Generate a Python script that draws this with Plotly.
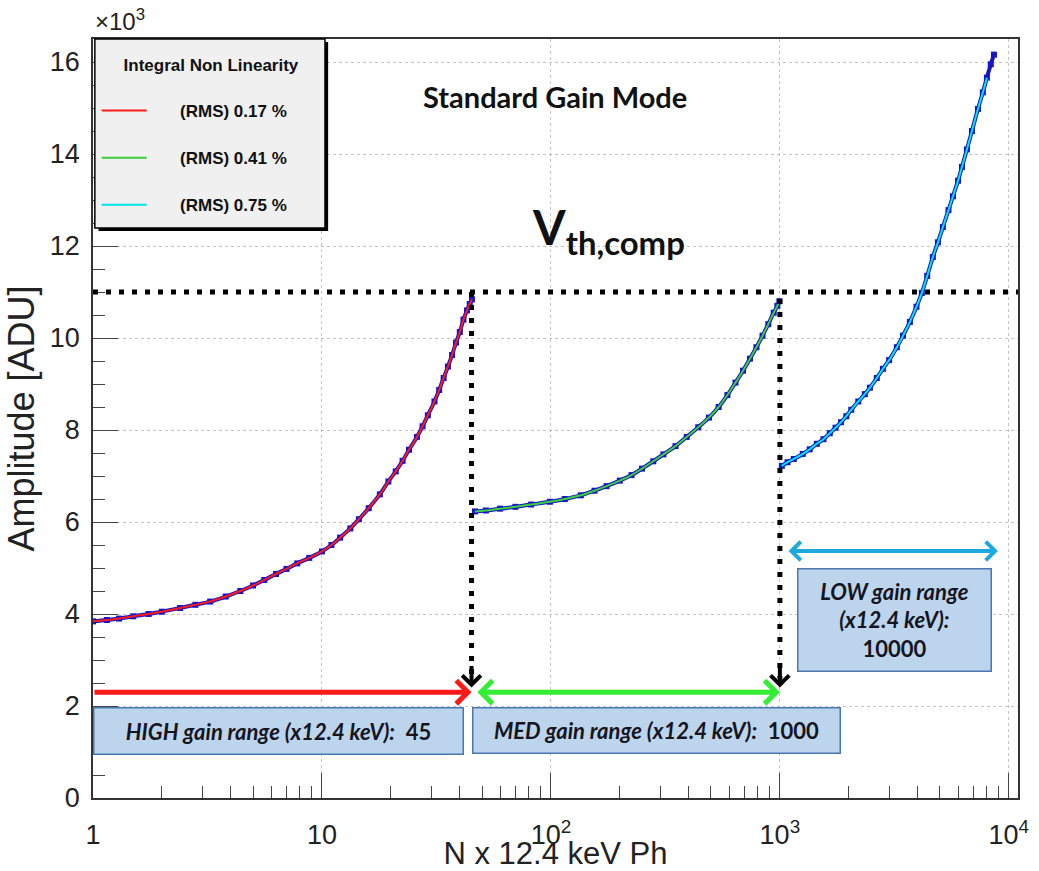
import math
import plotly.graph_objects as go

# ---------------- data ----------------
high_x = [1.0, 1.15, 1.3, 1.5, 1.75, 2.0, 2.4, 2.8, 3.25, 3.8, 4.4, 5.0, 5.6, 6.3, 7.0, 7.8, 8.8,
          10.0, 11.0, 12.0, 13.3, 14.5, 16.0, 17.9, 19.5, 21.0, 22.5, 24.0, 26.0, 27.5, 29.0,
          31.0, 32.5, 34.0, 35.5, 37.0, 38.5, 40.0, 41.5, 43.0, 44.2, 45.2]
high_y = [3.84, 3.87, 3.90, 3.95, 4.00, 4.05, 4.13, 4.20, 4.27, 4.38, 4.50, 4.62, 4.74, 4.87, 4.98,
          5.10, 5.22, 5.36, 5.50, 5.66, 5.86, 6.06, 6.30, 6.60, 6.88, 7.10, 7.33, 7.57, 7.85, 8.08,
          8.32, 8.62, 8.87, 9.13, 9.38, 9.63, 9.90, 10.13, 10.40, 10.60, 10.74, 10.84]

med_x = [46.6, 52, 60, 70, 82, 99, 115, 135, 155, 175, 200, 225, 250, 280, 310, 350, 392, 440,
         490, 540, 590, 640, 690, 740, 790, 840, 890, 940, 975, 995]
med_y = [6.23, 6.25, 6.29, 6.33, 6.38, 6.44, 6.50, 6.58, 6.68, 6.78, 6.90, 7.02, 7.16, 7.32, 7.47,
         7.65, 7.85, 8.06, 8.27, 8.50, 8.76, 9.03, 9.29, 9.55, 9.80, 10.05, 10.30, 10.55, 10.70, 10.80]

low_x = [1020, 1080, 1150, 1259, 1350, 1450, 1550, 1652, 1750, 1850, 1950, 2050, 2200, 2350, 2473,
         2650, 2818, 3000, 3243, 3450, 3697, 3950, 4169, 4400, 4656, 4900, 5150, 5450, 5700, 6000,
         6240, 6560, 6900, 7330, 7700, 8020, 8340, 8610]
low_y = [7.22, 7.30, 7.37, 7.48, 7.58, 7.70, 7.80, 7.93, 8.05, 8.17, 8.30, 8.44, 8.62, 8.78, 8.92,
         9.13, 9.33, 9.52, 9.80, 10.05, 10.35, 10.68, 10.98, 11.35, 11.76, 12.08, 12.41, 12.78, 13.08,
         13.42, 13.72, 14.10, 14.50, 14.98, 15.34, 15.66, 15.95, 16.16]
low_fit_n = 36  # fit drawn over the first points only

legend_names = ["(RMS) 0.17 %", "(RMS) 0.41 %", "(RMS) 0.75 %"]
fit_colors = ["#ff1a1a", "#3ccf3c", "#00e6f0"]
point_color = "#1616c8"

x_tickvals = [1, 10, 100, 1000, 10000]
x_ticktext = ["1", "10", "10<sup>2</sup>", "10<sup>3</sup>", "10<sup>4</sup>"]
y_tickvals = [0, 2, 4, 6, 8, 10, 12, 14, 16]
y_ticktext = ["0", "2", "4", "6", "8", "10", "12", "14", "16"]

v_threshold = 11.0          # Vth,comp level (x10^3 ADU)
high_limit = 45             # HIGH gain range end
med_limit = 1000            # MED gain range end
low_arrow = [1075, 8960]    # LOW gain range arrow extent
range_arrow_y = 2.3
low_arrow_y = 5.37

# ---------------- figure ----------------
fig = go.Figure()

series = [(high_x, high_y, len(high_x)), (med_x, med_y, len(med_x)), (low_x, low_y, low_fit_n)]
for i, (xs, ys, nfit) in enumerate(series):
    fig.add_trace(go.Scatter(
        x=xs, y=ys, mode="lines+markers",
        line=dict(color=point_color, width=4, shape="spline"),
        marker=dict(symbol="square", size=6, color=point_color),
        showlegend=False, hoverinfo="skip"))
for i, (xs, ys, nfit) in enumerate(series):
    fig.add_trace(go.Scatter(
        x=xs[:nfit], y=ys[:nfit], mode="lines",
        line=dict(color=fit_colors[i], width=2, shape="spline"),
        name="\u00a0" * 6 + legend_names[i] + "\u00a0" * 7, legendgroup="g%d" % i))

axis_font = dict(family="Liberation Sans", size=27, color="#222")
fig.update_xaxes(
    type="log", range=[0, 4.04],
    tickvals=x_tickvals, ticktext=x_ticktext, tickfont=axis_font,
    ticks="inside", ticklen=25, tickwidth=1, tickcolor="#444",
    ticklabelstandoff=12,
    minor=dict(ticks="inside", ticklen=12, tickwidth=1, tickcolor="#444", dtick="D1", showgrid=False),
    showline=True, linecolor="#333", linewidth=1.5, mirror=True,
    showgrid=True, gridcolor="#c4c4c4", griddash="dot", gridwidth=1,
    title=dict(text="N x 12.4 keV Ph", font=dict(family="Liberation Sans", size=31, color="#222"),
               standoff=0),
    zeroline=False)
fig.update_yaxes(
    range=[0, 16.5], tickvals=y_tickvals, ticktext=y_ticktext, tickfont=axis_font,
    ticks="inside", ticklen=25, tickwidth=1, tickcolor="#444",
    ticklabelstandoff=6,
    minor=dict(ticks="inside", ticklen=12, tickwidth=1, tickcolor="#444", dtick=0.5, showgrid=False),
    showline=True, linecolor="#333", linewidth=1.5, mirror=True,
    showgrid=True, gridcolor="#c4c4c4", griddash="dot", gridwidth=1,
    title=dict(text="Amplitude [ADU]", font=dict(family="Liberation Sans", size=36, color="#222"),
               standoff=4),
    zeroline=False)

dots = dict(color="black", width=5, dash="5px,8px")
shapes = [
    # legend box shadow + box
    dict(type="rect", xref="paper", yref="paper", x0=0.006, x1=0.2542, y0=0.747, y1=0.996,
         fillcolor="black", line=dict(width=0), layer="above"),
    dict(type="rect", xref="paper", yref="paper", x0=0.002, x1=0.2508, y0=0.751, y1=1.0,
         fillcolor="#f0f0f0", line=dict(color="black", width=1.5), layer="above"),
    # threshold line
    dict(type="line", xref="paper", yref="y", x0=0, x1=1, y0=v_threshold, y1=v_threshold,
         line=dots, layer="above"),
    dict(type="line", xref="x", yref="y", x0=high_limit, x1=high_limit, y0=v_threshold, y1=2.6,
         line=dots, layer="above"),
    dict(type="line", xref="x", yref="y", x0=med_limit, x1=med_limit, y0=10.85, y1=2.6,
         line=dots, layer="above"),
]
fig.update_layout(shapes=shapes)

lg = math.log10
annotations = [
    # colored range arrows
    dict(x=lg(high_limit), y=range_arrow_y, ax=lg(1), ay=range_arrow_y, xref="x", yref="y",
         axref="x", ayref="y", text="", showarrow=True, arrowhead=4, arrowsize=0.9,
         arrowwidth=5, arrowcolor="#ff1a1a"),
    dict(x=lg(med_limit), y=range_arrow_y, ax=lg(47), ay=range_arrow_y, xref="x", yref="y",
         axref="x", ayref="y", text="", showarrow=True, arrowhead=4, startarrowhead=4,
         arrowside="end+start", arrowsize=0.9, startarrowsize=0.9,
         arrowwidth=5, arrowcolor="#33ee33"),
    dict(x=lg(low_arrow[1]), y=low_arrow_y, ax=lg(low_arrow[0]), ay=low_arrow_y, xref="x", yref="y",
         axref="x", ayref="y", text="", showarrow=True, arrowhead=4, startarrowhead=4,
         arrowside="end+start", arrowsize=0.9, startarrowsize=0.9,
         arrowwidth=4, arrowcolor="#1ea8e0"),
    # black V heads
    dict(x=lg(high_limit), y=2.4, ax=lg(high_limit), ay=2.9, xref="x", yref="y",
         axref="x", ayref="y", text="", showarrow=True, arrowhead=4, arrowsize=0.9,
         arrowwidth=4, arrowcolor="black"),
    dict(x=lg(med_limit), y=2.4, ax=lg(med_limit), ay=2.9, xref="x", yref="y",
         axref="x", ayref="y", text="", showarrow=True, arrowhead=4, arrowsize=0.9,
         arrowwidth=4, arrowcolor="black"),
]
box_font = dict(family="Lato", size=22, color="#15151f")
box_style = dict(bgcolor="#bcd4ec", bordercolor="#4a78b0", borderwidth=1.5, borderpad=0,
                 showarrow=False, xref="paper", yref="paper", xanchor="center", yanchor="middle",
                 font=box_font)
annotations += [
    dict(text="<b><i>HIGH gain range (x12.4 keV):</i>  45</b>", x=0.2, y=0.0883,
         width=368, height=45, **box_style),
    dict(text="<b><i>MED gain range (x12.4 keV):</i>  1000</b>", x=0.6092, y=0.0889,
         width=366, height=44, **box_style),
    dict(text="<b><i>LOW gain range<br>(x12.4 keV):</i><br>10000</b>", x=0.8665, y=0.2345,
         width=192, height=101, **box_style),
    dict(text="<b>Standard Gain Mode</b>", x=0.4995, y=0.9236, xref="paper", yref="paper",
         xanchor="center", yanchor="middle", showarrow=False,
         font=dict(family="Lato", size=29, color="#111")),
    dict(text="<b>V<sub>th,comp</sub></b>", x=0.4725, y=0.748, xref="paper", yref="paper",
         xanchor="left", yanchor="middle", showarrow=False,
         font=dict(family="Lato", size=47, color="#111")),
    dict(text="\u00d710<sup>3</sup>", x=0, y=1, xref="paper", yref="paper",
         xanchor="left", yanchor="bottom", yshift=2, showarrow=False,
         font=dict(family="Liberation Sans", size=24, color="#222")),
]
fig.update_layout(annotations=annotations)

fig.update_layout(
    width=1039, height=871,
    margin=dict(l=93, r=21, t=39, b=73, autoexpand=False),
    paper_bgcolor="white", plot_bgcolor="white",
    showlegend=True,
    legend=dict(x=0.004, y=0.987, xanchor="left", yanchor="top",
                bgcolor="rgba(0,0,0,0)", borderwidth=0,
                font=dict(family="Liberation Sans", size=17, color="#111", weight="bold"),
                title=dict(text="<b>Integral Non Linearity</b><br>\u00a0", side="top center",
                           font=dict(family="Liberation Sans", size=17, color="#111")),
                traceorder="grouped", tracegroupgap=22, itemwidth=45),
)

fig.write_html("out.html")
